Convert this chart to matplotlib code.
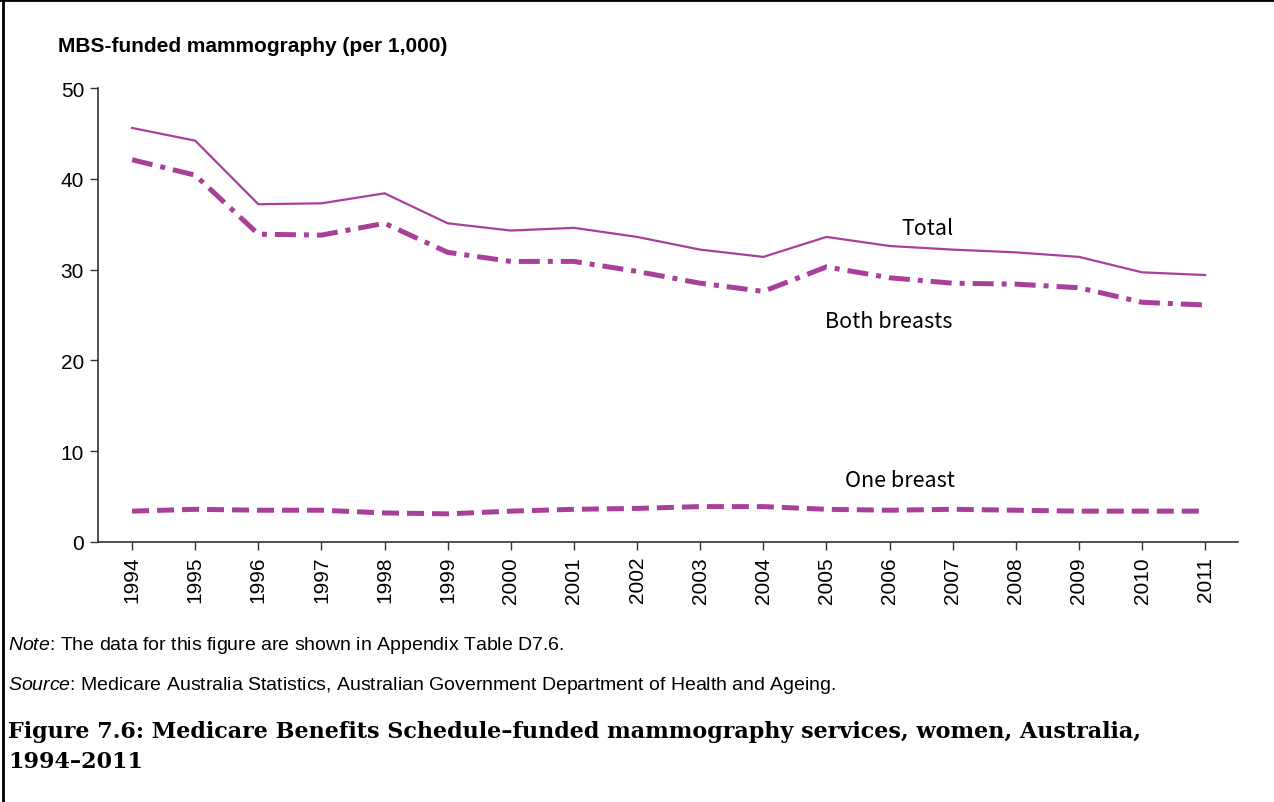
import numpy as np
import matplotlib.pyplot as plt
from matplotlib.lines import Line2D

years = list(range(1994, 2012))
total = [45.6, 44.2, 37.2, 37.3, 38.4, 35.1, 34.3, 34.6, 33.6, 32.2,
         31.4, 33.6, 32.6, 32.2, 31.9, 31.4, 29.7, 29.4]
both_breasts = [42.1, 40.4, 33.9, 33.8, 35.1, 31.9, 30.9, 30.9, 29.8, 28.5,
                27.6, 30.3, 29.1, 28.5, 28.4, 28.0, 26.4, 26.1]
one_breast = [3.4, 3.6, 3.5, 3.5, 3.2, 3.1, 3.4, 3.6, 3.7, 3.9,
              3.9, 3.6, 3.5, 3.6, 3.5, 3.4, 3.4, 3.4]
y_ticks = [0, 10, 20, 30, 40, 50]

plt.rcParams['mathtext.fontset'] = 'custom'
plt.rcParams['mathtext.rm'] = 'Liberation Sans'
plt.rcParams['mathtext.it'] = 'Liberation Sans:italic'

purple = '#a8409a'
W, H = 1274, 803

fig = plt.figure(figsize=(W / 100, H / 100), dpi=100)
ax = fig.add_axes([98 / W, 1 - 543 / H, (1238 - 98) / W, (543 - 89) / H])

ax.plot(years, total, color=purple, lw=1.6, solid_joinstyle='miter')
ax.plot(years, both_breasts, color=purple, lw=3.6, dashes=(4.2, 1.6, 1.0, 1.6))
ax.plot(years, one_breast, color=purple, lw=3.6, dashes=(3.4, 1.6))

ax.set_xlim(1993.46, 2011.52)
ax.set_ylim(0, 50)
ax.set_yticks(y_ticks)
ax.set_xticks(years)
ax.set_xticklabels([str(y) for y in years], rotation=90)

for s in ['top', 'right']:
    ax.spines[s].set_visible(False)
for s in ['left', 'bottom']:
    ax.spines[s].set_color('#333333')
    ax.spines[s].set_linewidth(1.2)
ax.tick_params(axis='both', direction='out', length=6, width=1.0, color='#333333',
               labelsize=15, pad=4)
for lab in ax.get_xticklabels() + ax.get_yticklabels():
    lab.set_family('Liberation Sans')

# series labels
lab_font = dict(family=['Noto Sans CJK JP', 'DejaVu Sans'], fontsize=15.5, ha='center', va='center')
ax.text(2006.6, 34.6, 'Total', **lab_font)
ax.text(2005.98, 24.3, 'Both breasts', **lab_font)
ax.text(2006.17, 6.8, 'One breast', **lab_font)

fig.text(58 / W, 1 - 47 / H, 'MBS-funded mammography (per 1,000)', family='Liberation Sans',
         fontsize=15, fontweight='bold', va='center', ha='left')

fig.text(8 / W, 1 - 646 / H, r'$\mathit{Note}$: The data for this figure are shown in Appendix Table D7.6.',
         family='Liberation Sans', fontsize=14, va='center', ha='left')
fig.text(8 / W, 1 - 686 / H,
         r'$\mathit{Source}$: Medicare Australia Statistics, Australian Government Department of Health and Ageing.',
         family='Liberation Sans', fontsize=14, va='center', ha='left')
fig.text(8 / W, 1 - 721 / H,
         'Figure 7.6: Medicare Benefits Schedule\u2013funded mammography services, women, Australia,\n1994\u20132011',
         family='DejaVu Serif', fontsize=16, fontweight='bold', va='top', ha='left',
         linespacing=1.48)

# frame lines along the top and left edges
fig.add_artist(Line2D([0, 1], [1 - 1 / H, 1 - 1 / H], transform=fig.transFigure, color='black', lw=2))
fig.add_artist(Line2D([2.5 / W, 2.5 / W], [0, 1], transform=fig.transFigure, color='black', lw=2))

fig.savefig('out.png', dpi=100)
